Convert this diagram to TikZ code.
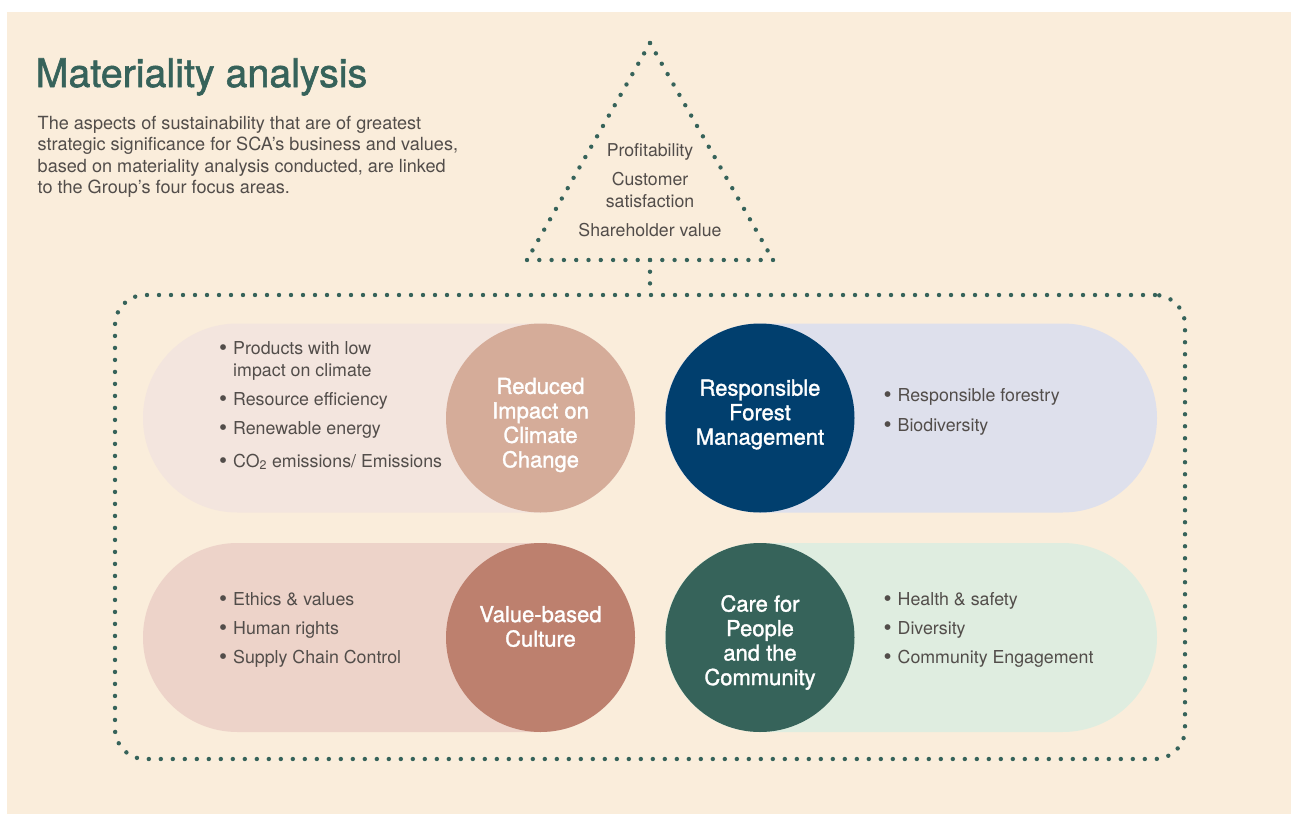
\documentclass[tikz,border=0pt]{standalone}
\usepackage{fontspec}
\setmainfont{TeX Gyre Heros}
\newfontfamily\medfont{TeX Gyre Heros}[FakeBold=1.4]
\usetikzlibrary{calc}
\definecolor{bg}{HTML}{FAEDDB}
\definecolor{dotc}{HTML}{36635A}
\definecolor{titlec}{HTML}{36625A}
\definecolor{txt}{HTML}{524D4A}
\definecolor{pillA}{HTML}{F3E5DE}
\definecolor{circA}{HTML}{D5AC99}
\definecolor{pillB}{HTML}{DEE0EC}
\definecolor{circB}{HTML}{013F6E}
\definecolor{pillC}{HTML}{EDD3C9}
\definecolor{circC}{HTML}{BD806E}
\definecolor{pillD}{HTML}{DFEDE0}
\definecolor{circD}{HTML}{36635A}
\newcommand{\bul}{\raisebox{-1.6pt}{\fontsize{23}{23}\selectfont\textbullet}\hspace{5.9pt}}
\begin{document}
\begin{tikzpicture}[x=1pt,y=-1pt,
  dotline/.style={draw=dotc, line width=4.4pt, line cap=round, dash pattern=on 0pt off #1},
  pill/.style={rectangle, rounded corners=94.4pt, minimum width=492pt, minimum height=189pt, inner sep=0pt, draw=none},
  circ/.style={circle, minimum size=189pt, inner sep=0pt, draw=none},
  ctext/.style={text=white, align=center, inner sep=0pt, font=\medfont\fontsize{22}{24.5}\selectfont},
  btext/.style={anchor=base west, inner sep=0pt, text=txt, font=\fontsize{17.8}{22}\selectfont},
  ptext/.style={anchor=base west, inner sep=0pt, text=txt, font=\fontsize{18.1}{22}\selectfont},
  ttext/.style={anchor=base, inner sep=0pt, text=txt, font=\fontsize{17.7}{22}\selectfont}]
\useasboundingbox (0,0) rectangle (1291,814);
\fill[white] (0,0) rectangle (1291,814);
\fill[bg] (7,12) rectangle (1291,814);

% title and intro
\node[anchor=base west, inner sep=0pt, text=titlec, font=\medfont\fontsize{39.4}{39}\selectfont] (title) at (35.5,87) {Materiality analysis};
\node[ptext] (p1) at (37.5,129) {The aspects of sustainability that are of greatest};
\node[ptext] (p2) at (37.5,150.5) {strategic significance for SCA’s business and values,};
\node[ptext] (p3) at (37.5,172) {based on materiality analysis conducted, are linked};
\node[ptext] (p4) at (37.5,193.5) {to the Group’s four focus areas.};

% frame
\node[draw=dotc, line width=4.4pt, line cap=round, dash pattern=on 0pt off 12pt, rounded corners=30pt, minimum width=1070pt, minimum height=464pt, inner sep=0pt] (frame) at (650,527) {};

% triangle
\coordinate (ta) at (650,43);
\coordinate (tl) at (527,260);
\coordinate (tr) at (773,260);
\coordinate (tb) at (650,260);
\draw[dotline=11.92pt] (ta) -- (tl);
\draw[dotline=11.92pt] (ta) -- (tr);
\draw[dotline=12.3pt] (tl) -- (tr);
\draw[dotline=11.7pt] (tb) -- (frame.north);
\node[ttext] (t1) at (650,156) {Profitability};
\node[ttext] (t2) at (650,185) {Customer};
\node[ttext] (t3) at (650,207) {satisfaction};
\node[ttext] (t4) at (650,236) {Shareholder value};

% pills
\node[pill, fill=pillA] (pA) at (389,418) {};
\node[pill, fill=pillB] (pB) at (911,418) {};
\node[pill, fill=pillC] (pC) at (389,637.5) {};
\node[pill, fill=pillD] (pD) at (911,637.5) {};

% circles
\node[circ, fill=circA] (cA) at (540.5,418) {};
\node[circ, fill=circB] (cB) at (760,418) {};
\node[circ, fill=circC] (cC) at (540.5,637.5) {};
\node[circ, fill=circD] (cD) at (760,637.5) {};

\node[ctext] (lA) at ($(cA.center)+(0,7)$) {Reduced\\Impact on\\Climate\\Change};
\node[ctext] (lB) at ($(cB.center)+(0,-3.5)$) {Responsible\\Forest\\Management};
\node[ctext] (lC) at ($(cC.center)+(0,-11)$) {Value-based\\Culture};
\node[ctext] (lD) at ($(cD.center)+(0,5)$) {Care for\\People\\and the\\Community};

% bullet lists
\node[btext] (a1) at (219,354) {\bul Products with low};
\node[btext] (a2) at (233,376) {impact on climate};
\node[btext] (a3) at (219,405) {\bul Resource efficiency};
\node[btext] (a4) at (219,434) {\bul Renewable energy};
\node[btext] (a5) at (219,467) {\bul CO\textsubscript{2} emissions/ Emissions};

\node[btext] (b1) at (883.5,401) {\bul Responsible forestry};
\node[btext] (b2) at (883.5,431) {\bul Biodiversity};

\node[btext] (c1) at (219,605) {\bul Ethics \& values};
\node[btext] (c2) at (219,634) {\bul Human rights};
\node[btext] (c3) at (219,663) {\bul Supply Chain Control};

\node[btext] (d1) at (883.5,605) {\bul Health \& safety};
\node[btext] (d2) at (883.5,634) {\bul Diversity};
\node[btext] (d3) at (883.5,663) {\bul Community Engagement};
\end{tikzpicture}
\end{document}
